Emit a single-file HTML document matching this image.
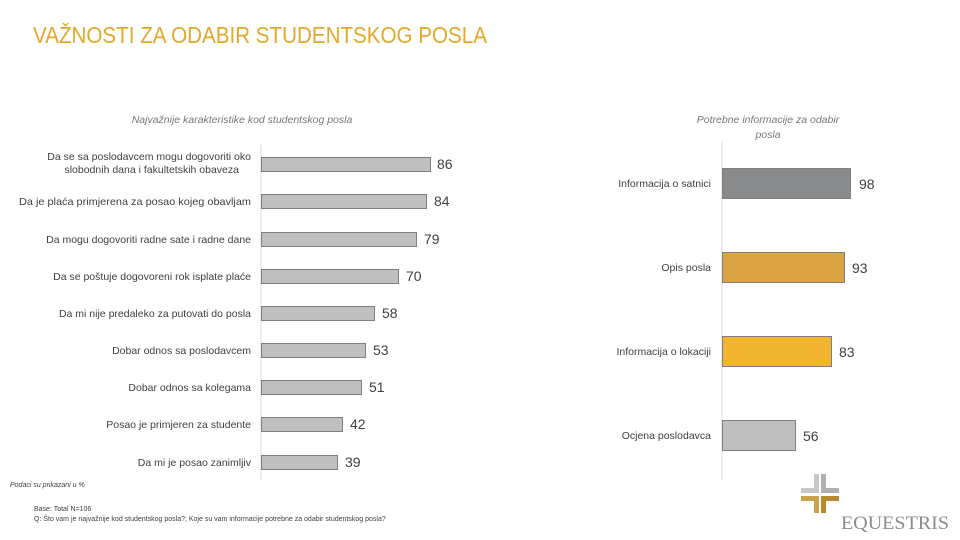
<!DOCTYPE html>
<html><head><meta charset="utf-8"><style>
body{margin:0;background:#fff;}
svg{display:block;font-family:"Liberation Sans",sans-serif;}
</style></head><body>
<svg width="960" height="540" viewBox="0 0 960 540">
<text x="33" y="43" font-size="23" fill="#e3a82a" textLength="454" lengthAdjust="spacingAndGlyphs">VAŽNOSTI ZA ODABIR STUDENTSKOG  POSLA</text>
<text x="242" y="123" font-size="10.5" font-style="italic" fill="#777" text-anchor="middle">Najvažnije karakteristike  kod studentskog posla</text>
<line x1="261" y1="145" x2="261" y2="480" stroke="#d9d9d9"/>
<g font-size="10.5" fill="#404040" text-anchor="end">
<text x="251" y="160">Da se sa poslodavcem mogu dogovoriti oko</text>
<text x="239" y="173">slobodnih dana i fakultetskih obaveza</text>
<text x="251" y="205" textLength="232" lengthAdjust="spacingAndGlyphs">Da je plaća primjerena za posao kojeg obavljam</text>
<text x="251" y="243">Da mogu dogovoriti radne sate i radne dane</text>
<text x="251" y="280">Da se poštuje dogovoreni rok isplate plaće</text>
<text x="251" y="317">Da mi nije predaleko za putovati do posla</text>
<text x="251" y="354">Dobar odnos sa poslodavcem</text>
<text x="251" y="391">Dobar odnos sa kolegama</text>
<text x="251" y="428">Posao je primjeren za studente</text>
<text x="251" y="466">Da mi je posao zanimljiv</text>
</g>
<g fill="#bfbfbf" stroke="#7f7f7f" stroke-width="1">
<rect x="261.5" y="157.5" width="169" height="14"/>
<rect x="261.5" y="194.5" width="165" height="14"/>
<rect x="261.5" y="232.5" width="155" height="14"/>
<rect x="261.5" y="269.5" width="137" height="14"/>
<rect x="261.5" y="306.5" width="113" height="14"/>
<rect x="261.5" y="343.5" width="104" height="14"/>
<rect x="261.5" y="380.5" width="100" height="14"/>
<rect x="261.5" y="417.5" width="81" height="14"/>
<rect x="261.5" y="455.5" width="76" height="14"/>
</g>
<g font-size="14" fill="#404040">
<text x="437" y="169">86</text><text x="434" y="206">84</text><text x="424" y="244">79</text>
<text x="406" y="281">70</text><text x="382" y="318">58</text><text x="373" y="355">53</text>
<text x="369" y="392">51</text><text x="350" y="429">42</text><text x="345" y="467">39</text>
</g>
<text x="768" y="123" font-size="10.5" font-style="italic" fill="#777" text-anchor="middle">Potrebne informacije za odabir</text>
<text x="768" y="138" font-size="10.5" font-style="italic" fill="#777" text-anchor="middle">posla</text>
<line x1="722" y1="141" x2="722" y2="480" stroke="#d9d9d9"/>
<g font-size="10.5" fill="#404040" text-anchor="end">
<text x="711" y="187">Informacija o satnici</text>
<text x="711" y="271">Opis posla</text>
<text x="711" y="355">Informacija o lokaciji</text>
<text x="711" y="439">Ocjena poslodavca</text>
</g>
<rect x="722.5" y="168.5" width="128" height="30" fill="#898a8c" stroke="#7f7f7f"/>
<rect x="722.5" y="252.5" width="122" height="30" fill="#d9a441" stroke="#7f7f7f"/>
<rect x="722.5" y="336.5" width="109" height="30" fill="#f1b52f" stroke="#7f7f7f"/>
<rect x="722.5" y="420.5" width="73" height="30" fill="#bfbfbf" stroke="#7f7f7f"/>
<g font-size="14" fill="#404040">
<text x="859" y="189">98</text><text x="852" y="273">93</text><text x="839" y="357">83</text><text x="803" y="441">56</text>
</g>
<text x="10" y="487" font-size="7" font-style="italic" fill="#404040">Podaci su prikazani u %</text>
<text x="34" y="511" font-size="7" fill="#404040">Base: Total  N=106</text>
<text x="34" y="521" font-size="7" fill="#404040">Q: Što vam je najvažnije  kod studentskog posla?;  Koje su vam informacije  potrebne za odabir studentskog posla?</text>
<g>
<rect x="814" y="474" width="5" height="17" fill="#c8c8c8"/><rect x="821" y="474" width="5" height="17" fill="#b0b0b0"/>
<rect x="801" y="488" width="18" height="5" fill="#c8c8c8"/><rect x="821" y="488" width="18" height="5" fill="#b0b0b0"/>
<rect x="801" y="496" width="18" height="5" fill="#c9a24a"/><rect x="821" y="496" width="18" height="5" fill="#b88a2c"/>
<rect x="814" y="496" width="5" height="17" fill="#c9a24a"/><rect x="821" y="496" width="5" height="17" fill="#b88a2c"/>
</g>
<text x="841" y="529" font-size="19" font-family="Liberation Serif,serif" fill="#8c8c8c" textLength="108" lengthAdjust="spacingAndGlyphs">EQUESTRIS</text>
</svg>
</body></html>
